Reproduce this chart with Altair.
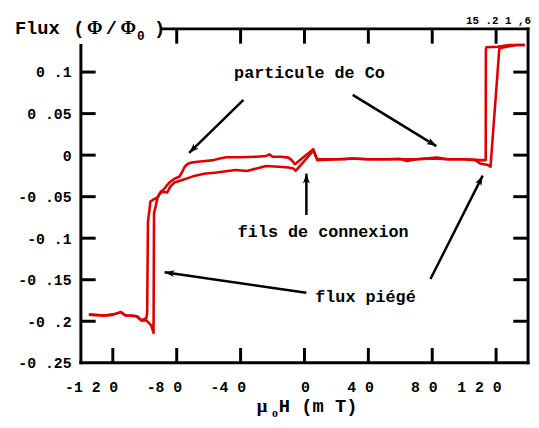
import math
import altair as alt
import pandas as pd

# ---------------- data ----------------
# increasing field branch
up_h = [-135, -125, -120, -115, -112, -108, -105, -102, -99, -96, -94.5, -94.2, -93.2, -92, -90.5, -89,
        -86, -84, -81.5, -76.5, -73.5, -69, -63, -55, -48, -43, -36, -30, -24, -16, -10, -7, -5.5,
        4, 5.5, 8, 15, 25, 30, 40, 50, 60, 64, 70, 83, 90, 100, 107, 110, 115, 116.5, 122, 125, 133, 138]
up_phi = [-0.192, -0.193, -0.192, -0.189, -0.193, -0.193, -0.194, -0.199, -0.199, -0.205, -0.214, -0.070, -0.062, -0.051, -0.046, -0.044,
          -0.045, -0.038, -0.033, -0.030, -0.028, -0.025, -0.0225, -0.021, -0.019, -0.018, -0.019, -0.016, -0.013, -0.014, -0.015, -0.016, -0.019,
          0.002, 0.006, -0.005, -0.005, -0.005, -0.004, -0.005, -0.005, -0.0045, -0.007, -0.005, -0.003, -0.005, -0.005, -0.006, -0.010, -0.012, -0.014, 0.128, 0.130, 0.1325, 0.1325]
# decreasing field branch
down_h = [138, 128, 121, 114, 113.6, 113.5, 110, 100, 90, 80, 70, 60, 50, 40, 30, 20, 8, 5.5, -6, -8,
          -10, -15, -20, -22, -24, -30, -40, -49, -53, -57, -62, -67, -71, -73.5, -75, -76.5, -78.4, -81,
          -84, -86, -88, -90, -92, -95, -96.5, -97, -98, -98.5, -99, -102, -105, -112, -115, -120, -125, -135]
down_phi = [0.1325, 0.1325, 0.1305, 0.130, 0.128, -0.006, -0.006, -0.005, -0.005, -0.004, -0.005, -0.005, -0.005, -0.005, -0.004, -0.005, -0.006, 0.007, -0.011, -0.006,
            -0.003, -0.002, -0.002, 0.001, -0.001, -0.002, -0.0025, -0.0025, -0.004, -0.006, -0.007, -0.008, -0.009, -0.011, -0.014, -0.020, -0.026, -0.028,
            -0.032, -0.036, -0.041, -0.044, -0.051, -0.054, -0.056, -0.065, -0.080, -0.190, -0.196, -0.199, -0.194, -0.193, -0.189, -0.192, -0.193, -0.192]

x_ticks = [-120, -80, -40, 0, 40, 80, 120]
x_tick_labels = ["-1 2 0", "-8 0", "-4 0", "0", "4 0", "8 0", "1 2 0"]
top_ticks = [-80, -40, 0, 40, 80, 120]
y_ticks = [0.1, 0.05, 0, -0.05, -0.1, -0.15, -0.2, -0.25]
y_tick_labels = ["0 .1", "0 .05", "0", "-0 .05", "-0 .1", "-0 .15", "-0 .2", "-0 .25"]

notes = ["particule de Co", "fils de connexion", "flux piégé"]
note_h = [3.1, 11.7, 38.2]
note_phi = [0.0986, -0.0923, -0.1705]

arrow_h1 = [-38.2, 30.2, 1.2, 1.2, 78.9]
arrow_phi1 = [0.0666, 0.0725, -0.0721, -0.1658, -0.1492]
arrow_h2 = [-72.2, 82.6, 1.2, -87.6, 111.6]
arrow_phi2 = [0.0026, 0.0109, -0.0223, -0.1409, -0.0247]

# ---------------- geometry / style ----------------
XMIN, XMAX = -140, 140
YMIN, YMAX = -0.25, 0.152
W, H = 454, 339
KX = W / (XMAX - XMIN)
KY = H / (YMAX - YMIN)
TICK_PX = 15
RED = "#e00000"
MONO = "Liberation Mono"

xs = alt.Scale(domain=[XMIN, XMAX], nice=False, zero=False)
ys = alt.Scale(domain=[YMIN, YMAX], nice=False, zero=False)

loop = pd.DataFrame({
    "h": up_h + down_h,
    "phi": up_phi + down_phi,
    "branch": ["up"] * len(up_h) + ["down"] * len(down_h),
    "i": list(range(len(up_h))) + list(range(len(down_h))),
})


def label_expr(values, labels):
    expr = "''"
    for v, l in reversed(list(zip(values, labels))):
        expr = f"abs(datum.value - ({v})) < 1e-9 ? '{l}' : ({expr})"
    return expr


x_axis = alt.Axis(values=x_ticks, labelExpr=label_expr(x_ticks, x_tick_labels), domain=False, ticks=False,
                  grid=False, title=None, labelFont=MONO, labelFontWeight="bold", labelFontSize=15,
                  labelColor="black", labelPadding=17, labelFlush=False, labelOverlap=False,
                  labelAlign="right", labelOffset=5)
y_axis = alt.Axis(values=y_ticks, labelExpr=label_expr(y_ticks, y_tick_labels), domain=False, ticks=False,
                  grid=False, title=None, labelFont=MONO, labelFontWeight="bold", labelFontSize=15,
                  labelColor="black", labelPadding=10, labelFlush=False, labelOverlap=False)

lines = alt.Chart(loop).mark_line(color=RED, strokeWidth=2.6, strokeJoin="round").encode(
    x=alt.X("h:Q", scale=xs, axis=x_axis),
    y=alt.Y("phi:Q", scale=ys, axis=y_axis),
    detail="branch:N",
    order="i:Q",
)

# frame
frame = pd.DataFrame({
    "x": [XMIN, -88.8, XMAX, XMIN],
    "x2": [XMIN, XMAX, XMAX, XMAX],
    "y": [YMIN, YMAX, YMIN, YMIN],
    "y2": [0.132, YMAX, YMAX, YMIN],
})
frame_l = alt.Chart(frame).mark_rule(color="black", strokeWidth=3, strokeCap="square").encode(
    x=alt.X("x:Q", scale=xs), x2="x2", y=alt.Y("y:Q", scale=ys), y2="y2")

# inward ticks
dy = TICK_PX / KY
dx = TICK_PX / KX
tk = []
for v in x_ticks:
    tk.append({"x": v, "x2": v, "y": YMIN, "y2": YMIN + dy})
for v in top_ticks:
    tk.append({"x": v, "x2": v, "y": YMAX, "y2": YMAX - dy})
for v in y_ticks[:-1]:
    tk.append({"x": XMIN, "x2": XMIN + dx, "y": v, "y2": v})
    tk.append({"x": XMAX, "x2": XMAX - dx, "y": v, "y2": v})
ticks = alt.Chart(pd.DataFrame(tk)).mark_rule(color="black", strokeWidth=3).encode(
    x=alt.X("x:Q", scale=xs), x2="x2", y=alt.Y("y:Q", scale=ys), y2="y2")

# arrows
arr = pd.DataFrame({"x": arrow_h1, "y": arrow_phi1, "x2": arrow_h2, "y2": arrow_phi2})
arr["angle"] = [
    math.degrees(math.atan2((b - a) * KX, (d - c) * KY)) % 360
    for a, b, c, d in zip(arr.x, arr.x2, arr.y, arr.y2)
]
shafts = alt.Chart(arr).mark_rule(color="black", strokeWidth=2.5).encode(
    x=alt.X("x:Q", scale=xs), x2="x2", y=alt.Y("y:Q", scale=ys), y2="y2")
heads = alt.Chart(arr).mark_point(
    shape="M0,0L0.6,1.7L0,1.25L-0.6,1.7Z", filled=True, color="black", opacity=1, size=140
).encode(
    x=alt.X("x2:Q", scale=xs), y=alt.Y("y2:Q", scale=ys), angle=alt.Angle("angle:Q", scale=None))

# annotations
ann = pd.DataFrame({"t": notes, "x": note_h, "y": note_phi})
ann_t = alt.Chart(ann).mark_text(font=MONO, fontWeight="bold", fontSize=17, color="black",
                                 align="center", baseline="middle").encode(
    x=alt.X("x:Q", scale=xs), y=alt.Y("y:Q", scale=ys), text="t:N")

# axis titles & odd top labels (pixel-positioned pieces relative to the plot origin)
pieces = pd.DataFrame({
    "t": ["Flux", "(", "Φ", "/", "Φ", "0", ")", "μ", "o", "H (m T)", "15 .2 1 ,6"],
    "px": [-67, -2, 14, 31, 48, 61, 80, 184, 197, 201, 457],
    "py": [5, 5, 5, 5, 5, 11, 5, 389, 394, 389, -5],
    "size": [19, 19, 19, 19, 19, 13, 19, 19, 12, 19, 11],
    "al": ["left", "center", "center", "center", "center", "center", "center", "center", "center", "left", "right"],
    "font": [MONO, MONO, "Liberation Serif", MONO, "Liberation Serif", MONO, MONO, "Liberation Serif", "Liberation Serif", MONO, MONO],
})
txt_layers = []
for (al, fnt, sz), g in pieces.groupby(["al", "font", "size"]):
    txt_layers.append(
        alt.Chart(g).mark_text(align=al, baseline="alphabetic", font=fnt, fontSize=int(sz),
                               fontWeight="bold", color="black").encode(
            x=alt.X("px:Q", scale=None), y=alt.Y("py:Q", scale=None), text="t:N")
    )

chart = alt.layer(lines, frame_l, ticks, shafts, heads, ann_t, *txt_layers).properties(
    width=W, height=H,
    autosize=alt.AutoSizeParams(type="none"),
    padding={"left": 74, "top": 18, "right": 3, "bottom": 62},
    background="white",
).configure_view(stroke=None)

chart.save("out.html", embed_options={"renderer": "svg", "actions": False})
